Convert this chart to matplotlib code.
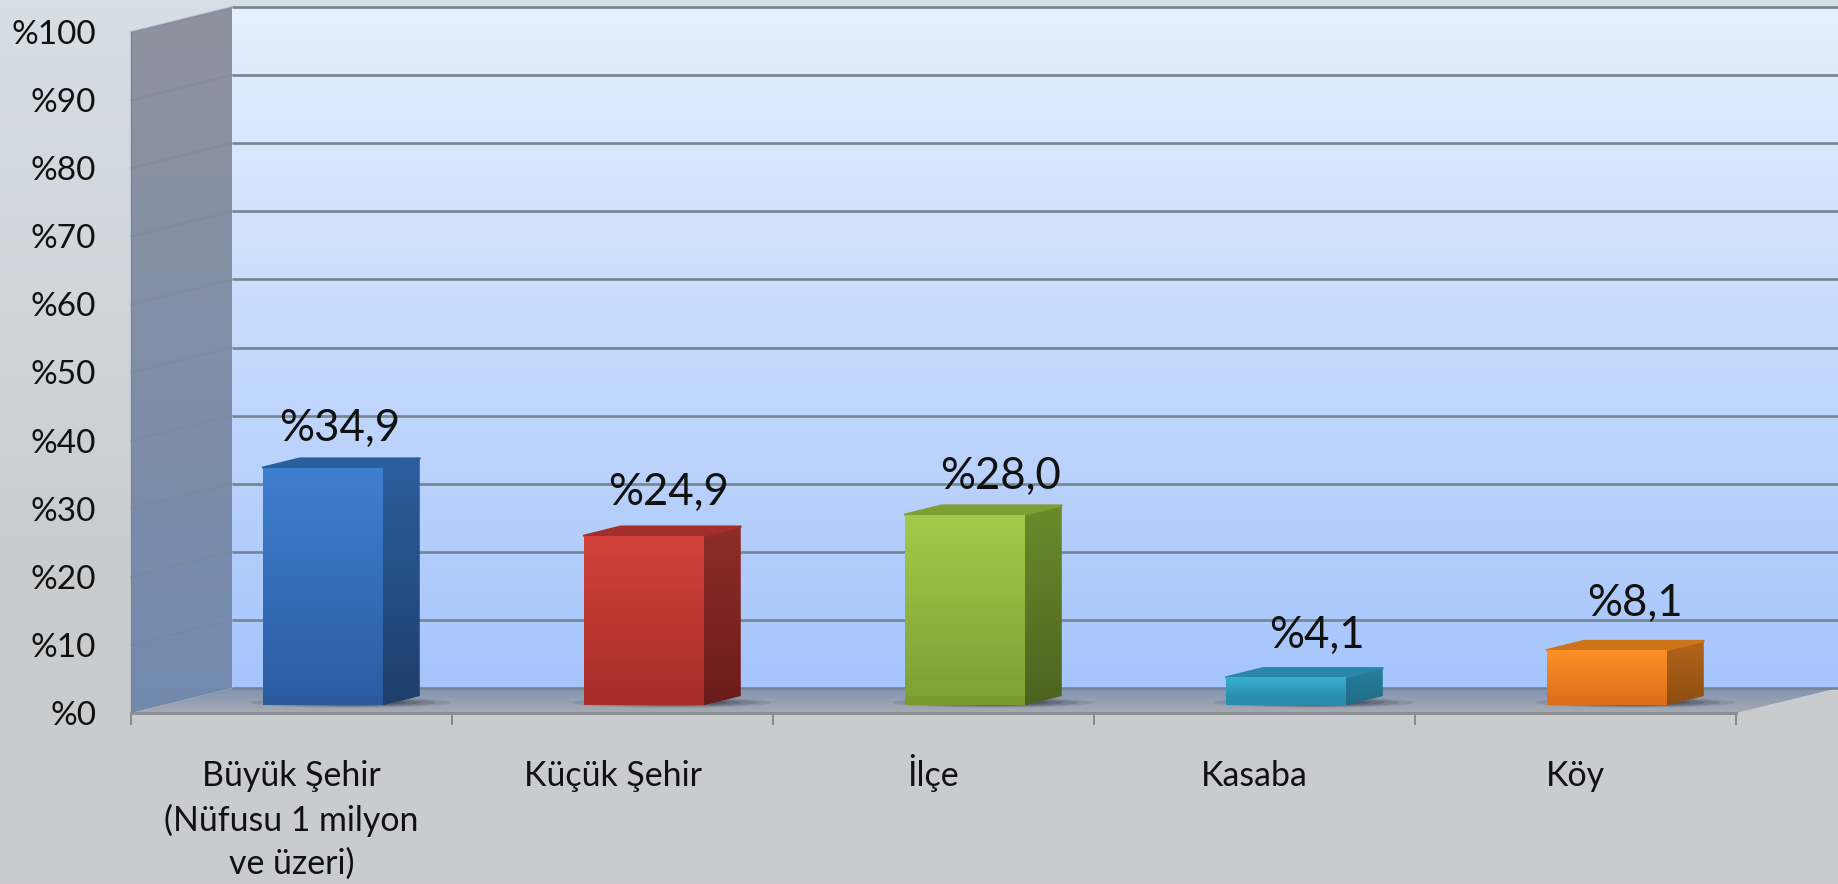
# 3D looking column chart, faked with polygons in one axes
import numpy as np
import matplotlib
matplotlib.use('Agg')
import matplotlib.pyplot as plt
from matplotlib.colors import LinearSegmentedColormap
from matplotlib.patches import Polygon, Ellipse
from matplotlib.transforms import ScaledTranslation

categories = ['Büyük Şehir\n(Nüfusu 1 milyon\nve üzeri)', 'Küçük Şehir', 'İlçe', 'Kasaba', 'Köy']
values = [34.9, 24.9, 28.0, 4.1, 8.1]
value_labels = ['%34,9', '%24,9', '%28,0', '%4,1', '%8,1']
y_ticks = [0, 10, 20, 30, 40, 50, 60, 70, 80, 90, 100]
y_labels = ['%0', '%10', '%20', '%30', '%40', '%50', '%60', '%70', '%80', '%90', '%100']

front_colors = [('#3f7fd0', '#2b5da3'), ('#d2423b', '#a82d29'), ('#a6ca48', '#7fa136'),
                ('#38b0d2', '#2b90ad'), ('#ff9128', '#e2721c')]
side_colors = [('#2c5e9e', '#1e3f6b'), ('#8f2d29', '#691c1a'), ('#6b8b2b', '#4d6320'),
               ('#287f9e', '#1f6d87'), ('#b4651a', '#8e4e12')]
top_colors = ['#2a5f9e', '#a32e2a', '#7f9e33', '#2a87a8', '#cf7318']
base_colors = ['#2a5a9c', '#a82c28', '#7a9a30', '#2a8dab', '#dd6f1c']
label_nudge = [17, 25, 36, 31, 28]  # px right of the bar centre
label_lift = [39, 43, 38, 42, 47]  # px above the bar top

W, H = 1838, 884
X0, X1 = 131, 1736
Y0, Y100 = 713, 32
DX = 101 / ((X1 - X0) / 5)  # wall depth in category units
DY = 25 / ((Y0 - Y100) / 100)  # wall depth in value units
BAR_W = 120 / ((X1 - X0) / 5)
BAR_F = 0.31  # where the bar front stands on the floor
BAR_D = 0.366  # bar depth, as part of wall depth


def grad(ax, pts, c1, c2, z, horizontal=False):
    pts = np.array(pts, dtype=float)
    patch = Polygon(pts, closed=True, transform=ax.transData, fc='none', ec='none', clip_on=False)
    ax.add_patch(patch)
    cmap = LinearSegmentedColormap.from_list('g', [c1, c2])
    g = np.linspace(0, 1, 256)
    g = g.reshape(1, -1) if horizontal else g.reshape(-1, 1)
    ext = (pts[:, 0].min(), pts[:, 0].max(), pts[:, 1].min(), pts[:, 1].max())
    im = ax.imshow(g, cmap=cmap, extent=ext, aspect='auto', origin='upper', zorder=z, vmin=0, vmax=1)
    im.set_clip_box(fig.bbox)
    im.set_clip_path(patch)


plt.rcParams['font.family'] = ['Lato', 'DejaVu Sans']
fig = plt.figure(figsize=(W / 100, H / 100), dpi=100)

# page background
bg = fig.add_axes([0, 0, 1, 1], zorder=-1)
bg.axis('off')
bg_cmap = LinearSegmentedColormap.from_list('bg', ['#d6dee6', '#cfd6dc', '#c9cbcd', '#cbcbcf'])
bg.imshow(np.linspace(0, 1, 256).reshape(-1, 1), cmap=bg_cmap, aspect='auto')

ax = fig.add_axes([X0 / W, 1 - Y0 / H, (X1 - X0) / W, (Y0 - Y100) / H])
ax.patch.set_visible(False)
ax.set_xlim(0, 5)
ax.set_ylim(0, 100)
ax.set_autoscale_on(False)

# back wall, left wall, floor
right = (W - X0) / ((X1 - X0) / 5)
grad(ax, [(DX, DY), (right, DY), (right, 100 + DY), (DX, 100 + DY)], '#e6effe', '#a5c5fb', 1)
grad(ax, [(0, 0), (DX, DY), (DX, 100 + DY), (0, 100)], '#8f939f', '#7289ae', 2)
grad(ax, [(0, 0), (DX, DY), (right, DY), (5, 0)], '#7f93b3', '#a9abb1', 2)

for t in y_ticks:
    ax.plot([DX, right], [t + DY, t + DY], color='#75848f', lw=1.9, zorder=3, solid_capstyle='butt', clip_on=False)
    if t > 0:
        ax.plot([0, DX], [t, t + DY], color='#7d8593', lw=1.2, alpha=0.45, zorder=3, clip_on=False)
ax.plot([0, 0], [0, 100], color='#7d8695', lw=1.0, zorder=3, clip_on=False)

# bars
centers = np.arange(5) + 0.5 + BAR_F * DX
base = BAR_F * DY
bd_x, bd_y = BAR_D * DX, BAR_D * DY
hw = BAR_W / 2

# soft shadow on the floor
for c in centers:
    for k, a in zip([1.0, 0.85, 0.7, 0.55], [0.12, 0.16, 0.2, 0.25]):
        ax.add_patch(Ellipse((c + bd_x / 2 + 0.03, base + bd_y * 0.3), (BAR_W + 0.25) * k, 1.5 * k,
                             fc='#1f2430', ec='none', alpha=a, zorder=4, clip_on=False))

bars = ax.bar(centers, values, BAR_W, bottom=base, color=base_colors, zorder=6, clip_on=False)

for i, rect in enumerate(bars):
    c, v = centers[i], values[i]
    l, r, top = c - hw, c + hw, base + v
    grad(ax, [(r, base), (r + bd_x, base + bd_y), (r + bd_x, top + bd_y), (r, top)],
         side_colors[i][0], side_colors[i][1], 5)
    ax.add_patch(Polygon([(l, top), (l + bd_x, top + bd_y), (r + bd_x, top + bd_y), (r, top)],
                         fc=top_colors[i], ec=top_colors[i], lw=1.5, joinstyle='round', zorder=5, clip_on=False))
    # front face gradient, the plain bar stays visible as the darker foot
    grad(ax, [(l, base + bd_y), (r, base + bd_y), (r, top), (l, top)], front_colors[i][0], front_colors[i][1], 7)
    ax.annotate(value_labels[i], (c, top), xytext=(label_nudge[i] * 0.72, label_lift[i] * 0.72),
                textcoords='offset points', ha='center', va='center', fontsize=31.5, color='#111111', zorder=9)

# axes furniture
for s in ['top', 'left', 'right']:
    ax.spines[s].set_visible(False)
ax.spines['bottom'].set_color('#8b8e93')
ax.spines['bottom'].set_linewidth(2.2)
ax.spines['bottom'].set_zorder(8)

ax.set_yticks(y_ticks)
ax.set_yticklabels(y_labels, fontsize=24, color='#111111')
ax.tick_params(axis='y', length=0, pad=25)
ax.set_xticks(np.arange(6))
ax.set_xticklabels([])
ax.tick_params(axis='x', which='major', length=8.6, width=1.4, color='#85888c')
ax.set_xticks(np.arange(5) + 0.5, minor=True)
ax.set_xticklabels(categories, minor=True, fontsize=24.4, color='#111111', linespacing=1.42, va='top')
ax.tick_params(axis='x', which='minor', length=0, pad=34)

# the dotted capital sits higher than the umlauts, so lift that one label
lab = ax.xaxis.get_minorticklabels()[2]
lab.set_transform(lab.get_transform() + ScaledTranslation(0, 6 / 100, fig.dpi_scale_trans))

fig.savefig('out.png', dpi=100)
